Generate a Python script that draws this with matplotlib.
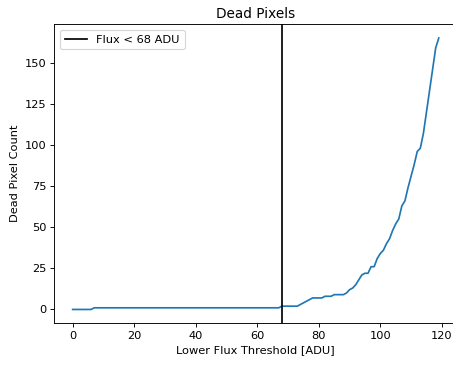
import numpy as np
import matplotlib
matplotlib.use('Agg')
import matplotlib.pyplot as plt

# ------ dead pixel counts vs lower flux threshold

threshold = np.arange(0, 120)

counts = [0] * 7 + [1] * 61 + [2] * 6 + [
    3, 4, 5, 6, 7, 7, 7, 7, 8, 8, 8, 9, 9, 9, 9, 10, 12, 13, 15, 18,
    21, 22, 22, 26, 26, 31, 34, 36, 40, 43, 48, 52, 55, 63, 66, 74,
    81, 88, 96, 98, 107, 120, 133, 146, 159, 165]

cut = 68

dpi = 82
fig, ax = plt.subplots(figsize=(453 / dpi, 365 / dpi), dpi=dpi)
fig.subplots_adjust(left=0.120, right=1.009, top=0.933, bottom=0.115)

ax.plot(threshold, counts)
ax.axvline(cut, c='k', label='Flux < {0} ADU'.format(cut))

ax.set_title('Dead Pixels')
ax.set_xlabel('Lower Flux Threshold [ADU]')
ax.set_ylabel('Dead Pixel Count')
ax.legend(loc='upper left')

fig.savefig('out.png', dpi=dpi)
